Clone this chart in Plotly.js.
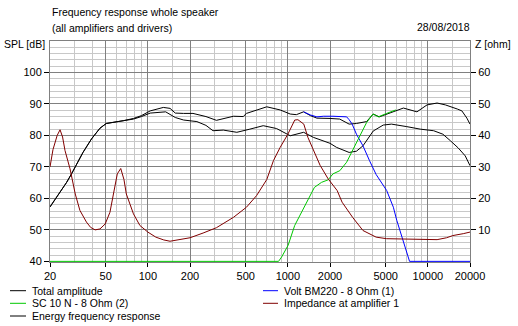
<!DOCTYPE html>
<html><head><meta charset="utf-8">
<script src="https://cdn.plot.ly/plotly-3.0.1.min.js"></script>
<style>html,body{margin:0;padding:0;background:#fff;}#chart{width:518px;height:326px;}</style>
</head><body><div id="chart"></div>
<script>
// ---- data ----
const freqTotal = [20, 22.3, 24.2, 26.3, 28.5, 31, 34.4, 39.6, 45.5, 50.5, 60, 67, 79, 90, 104, 129, 144, 157, 180, 210, 260, 309, 409, 480, 506, 561, 707, 881, 1040, 1150, 1296, 1450, 1612, 2000, 2347, 2740, 3090, 3650, 4070, 4500, 5080, 6000, 6690, 8360, 9860, 11640, 13350, 16220, 17500, 19000, 20000];
const splTotal  = [57.3, 60.4, 62.5, 65.1, 67.8, 70.9, 74.6, 78.9, 82.3, 83.8, 84.3, 84.7, 85.4, 86.3, 87.8, 88.9, 88.6, 87.1, 87.0, 87.0, 86.0, 84.8, 86.1, 86.0, 87.0, 87.6, 89.1, 88.1, 86.8, 86.6, 87.5, 86.3, 85.5, 85.4, 85.2, 83.6, 83.8, 84.4, 86.8, 85.9, 86.8, 88.1, 88.7, 87.5, 89.7, 90.3, 89.7, 88.4, 87.8, 85.5, 83.6];

const freqEnergy = [20, 22.3, 24.2, 26.3, 28.5, 31, 34.4, 39.6, 45.5, 50.5, 60, 67, 79, 90, 104, 134, 157, 180, 224, 260, 292, 346, 432, 535, 667, 830, 1040, 1296, 1520, 2000, 2230, 2740, 3090, 3440, 4070, 4800, 5500, 7070, 8830, 11000, 12800, 14500, 16500, 18500, 20000];
const splEnergy  = [57.3, 60.4, 62.5, 65.1, 67.8, 70.9, 74.6, 78.9, 82.3, 83.8, 84.3, 84.7, 85.2, 86.0, 87.1, 87.5, 85.7, 84.9, 84.4, 83.2, 81.5, 81.7, 81.0, 82.0, 83.1, 82.2, 79.9, 81.0, 79.4, 77.5, 76.2, 74.6, 75.0, 76.7, 81.4, 83.3, 83.6, 82.8, 82.0, 81.5, 80.4, 78.3, 76.0, 73.5, 70.4];

const freqWoofer = [1296, 1450, 1612, 1800, 2100, 2450, 2630, 2740, 2880, 3090, 3440, 3830, 4270, 5080, 5400, 5670, 6000, 6320, 6690, 7070, 7400, 20000];
const splWoofer  = [87.5, 86.5, 85.9, 86.1, 86.1, 86.0, 85.9, 85.0, 83.6, 80.4, 76.7, 72.0, 67.6, 62.5, 59.3, 57.2, 53.0, 49.8, 46.7, 43.5, 40.0, 40.0];

const freqTweeter = [20, 858, 903, 1004, 1119, 1250, 1393, 1548, 1740, 1940, 2100, 2350, 2630, 2900, 3250, 3650, 4060, 4430, 5080, 5900];
const splTweeter  = [40, 40, 41.4, 45.1, 51.4, 55.6, 59.9, 63.5, 65.1, 65.9, 67.8, 68.8, 71.5, 75.2, 79.4, 84.1, 86.8, 85.9, 87.0, 88.1];

const freqImp = [20, 21, 22.5, 23.6, 24.6, 25.6, 27.8, 30.3, 32.7, 36.4, 39, 42, 45.5, 49.6, 53.6, 60.5, 64, 67.5, 70.2, 78.9, 87.7, 100, 114, 130, 144, 169, 200, 248, 309, 409, 506, 598, 707, 789, 881, 1000, 1120, 1180, 1300, 1390, 1548, 1700, 1940, 2250, 2440, 2900, 3440, 3830, 4270, 5080, 7070, 8830, 11640, 13600, 15100, 17900, 20000];
const impOhm  = [30, 35.5, 40, 41.8, 39.5, 35.2, 29.4, 21.4, 16.2, 12.5, 10.8, 10.0, 10.3, 11.9, 15.6, 27.8, 29.5, 26, 21.4, 15.1, 11.4, 9.3, 7.7, 6.8, 6.4, 6.9, 7.5, 9.0, 10.7, 14.0, 17.2, 20.9, 26.0, 32.0, 36.2, 40.4, 44.9, 45.0, 43.6, 39.4, 34.5, 30.5, 26.2, 22.5, 18.8, 14.0, 9.8, 8.8, 7.7, 7.2, 7.0, 6.9, 6.9, 7.5, 8.2, 8.8, 9.3];

const xTickVals = [20, 50, 100, 200, 500, 1000, 2000, 5000, 10000, 20000];
const xTickText = ['20', '50', '100', '200', '500', '1000', '2000', '5000', '10000', '20000'];
const xMinorVals = [30, 40, 60, 70, 80, 90, 150, 300, 400, 600, 700, 800, 900, 1500, 3000, 4000, 6000, 7000, 8000, 9000, 15000];
const splTickVals = [40, 50, 60, 70, 80, 90, 100];
const splMinorVals = [42, 44, 46, 48, 52, 54, 56, 58, 62, 64, 66, 68, 72, 74, 76, 78, 82, 84, 86, 88, 92, 94, 96, 98, 102, 104, 106, 108];
const ohmTickVals = [10, 20, 30, 40, 50, 60];

const seriesNames = ['Total amplitude', 'Volt BM220 - 8 Ohm (1)', 'SC 10 N - 8 Ohm (2)', 'Impedance at amplifier 1', 'Energy frequency response'];
const seriesColors = ['#000000', '#0000ff', '#00c800', '#800000', '#000000'];

// ---- layout helpers ----
const W = 518, H = 326, ML = 50, MR = 48, MT = 41, MB = 64;
const PW = W - ML - MR, PH = H - MT - MB;
function px(x) { return (x - ML) / PW; }
function py(y) { return (H - MB - y) / PH; }

const FONT = 'Liberation Sans, Arial, sans-serif';
const TXT = 10.5;

const traces = [
  {x: freqEnergy, y: splEnergy, name: seriesNames[4], line: {color: seriesColors[4], width: 1}},
  {x: freqTotal, y: splTotal, name: seriesNames[0], line: {color: seriesColors[0], width: 1}},
  {x: freqWoofer, y: splWoofer, name: seriesNames[1], line: {color: seriesColors[1], width: 1}},
  {x: freqTweeter, y: splTweeter, name: seriesNames[2], line: {color: seriesColors[2], width: 1}},
  {x: freqImp, y: impOhm, name: seriesNames[3], yaxis: 'y2', line: {color: seriesColors[3], width: 1}}
].map(t => Object.assign({type: 'scatter', mode: 'lines', showlegend: false, hoverinfo: 'skip'}, t));

// legend built as shapes + text, in two columns like the reference
const legendPos = [
  {lx0: 10, lx1: 26, tx: 30, y: 290.7},
  {lx0: 263, lx1: 278, tx: 282, y: 290.7},
  {lx0: 10, lx1: 26, tx: 30, y: 303.3},
  {lx0: 263, lx1: 278, tx: 282, y: 303.3},
  {lx0: 10, lx1: 26, tx: 30, y: 316}
];
const shapes = [];
const annotations = [];
seriesNames.forEach((n, i) => {
  const p = legendPos[i];
  shapes.push({type: 'line', xref: 'paper', yref: 'paper', x0: px(p.lx0), x1: px(p.lx1), y0: py(p.y), y1: py(p.y), line: {color: seriesColors[i], width: 1}});
  annotations.push({text: n, xref: 'paper', yref: 'paper', x: px(p.tx), y: py(p.y), xanchor: 'left', yanchor: 'middle', showarrow: false, font: {size: TXT, color: '#000', family: FONT}});
});
const texts = [
  {t: 'Frequency response whole speaker', x: 50, y: 12, a: 'left'},
  {t: '(all amplifiers and drivers)', x: 50, y: 28, a: 'left'},
  {t: 'SPL [dB]', x: 2, y: 44, a: 'left'},
  {t: 'Z [ohm]', x: 473, y: 44, a: 'left'},
  {t: '28/08/2018', x: 472, y: 27, a: 'right'}
];
texts.forEach(o => annotations.push({text: o.t, xref: 'paper', yref: 'paper', x: px(o.x), y: py(o.y), xanchor: o.a, yanchor: 'middle', showarrow: false, font: {size: TXT, color: '#000', family: FONT}}));

const layout = {
  width: W, height: H,
  margin: {l: ML, r: MR, t: MT, b: MB, pad: 0},
  paper_bgcolor: '#ffffff', plot_bgcolor: '#ffffff',
  font: {family: FONT, size: 11, color: '#000'},
  showlegend: false,
  hovermode: false,
  xaxis: {
    type: 'log', range: [Math.log10(20), Math.log10(20000)],
    tickmode: 'array', tickvals: xTickVals, ticktext: xTickText,
    ticks: 'outside', ticklen: 4, tickcolor: '#000', tickwidth: 1,
    showgrid: true, gridcolor: '#808080', gridwidth: 1,
    minor: {tickmode: 'array', tickvals: xMinorVals, showgrid: true, gridcolor: '#c8c8c8', gridwidth: 1, ticks: ''},
    showline: true, linecolor: '#808080', linewidth: 1, mirror: true,
    zeroline: false, fixedrange: true,
    tickfont: {size: 11, color: '#000', family: FONT}
  },
  yaxis: {
    range: [39.8, 110],
    tickmode: 'array', tickvals: splTickVals,
    ticks: 'outside', ticklen: 5, tickcolor: '#000', tickwidth: 1,
    showgrid: true, gridcolor: '#808080', gridwidth: 1,
    minor: {tickmode: 'array', tickvals: splMinorVals, showgrid: true, gridcolor: '#c8c8c8', gridwidth: 1, ticks: ''},
    showline: true, linecolor: '#808080', linewidth: 1, mirror: true,
    zeroline: false, fixedrange: true,
    tickfont: {size: 11, color: '#000', family: FONT}
  },
  yaxis2: {
    overlaying: 'y', side: 'right', range: [-0.2, 70],
    tickmode: 'array', tickvals: ohmTickVals,
    ticks: 'outside', ticklen: 5, tickcolor: '#000', tickwidth: 1,
    showgrid: false, showline: false, zeroline: false, fixedrange: true,
    tickfont: {size: 11, color: '#000', family: FONT}
  },
  shapes: shapes,
  annotations: annotations
};

Plotly.newPlot('chart', traces, layout, {staticPlot: true, displayModeBar: false});
</script>
</body></html>
